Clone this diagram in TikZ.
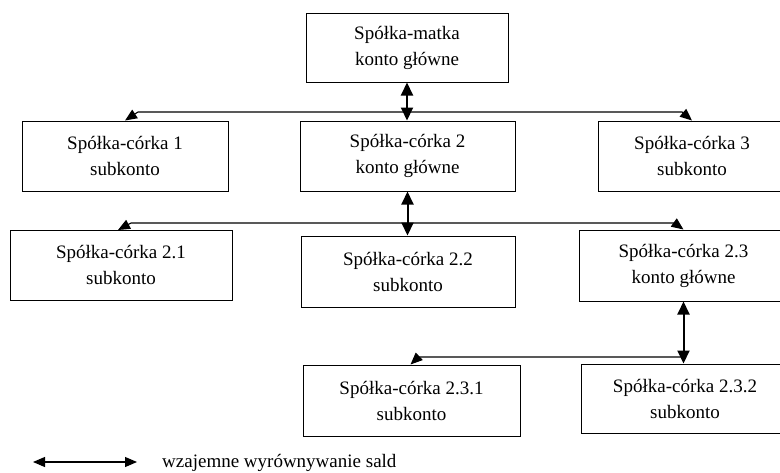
\documentclass[tikz,border=0pt]{standalone}
\usepackage{fontspec}
\setmainfont{Liberation Serif}
\usetikzlibrary{arrows.meta,calc}
\begin{document}
\begin{tikzpicture}[x=1pt,y=-1pt,
  box/.style={draw=black,line width=1pt,rectangle,inner sep=0pt,align=center,
    font=\fontsize{19}{26}\selectfont},
  vlink/.style={line width=2pt,{Triangle[length=13pt,width=12pt]}-{Triangle[length=13pt,width=12pt]}},
  hlink/.style={line width=1.1pt,-{Triangle[length=12pt,width=10pt]}},
  legendlink/.style={line width=1.1pt,{Triangle[length=12pt,width=10pt]}-{Triangle[length=12pt,width=10pt]}}]
\clip (0,0) rectangle (780,472);
\fill[white] (0,0) rectangle (780,472);

\node[box,minimum width=202pt,minimum height=69pt] (m) at (407,47.5) {Spółka-matka\\konto główne};
\node[box,minimum width=206pt,minimum height=70pt] (c1) at (125,156) {Spółka-córka 1\\subkonto};
\node[box,minimum width=215pt,minimum height=70pt] (c2) at (407.5,156) {Spółka-córka 2\\konto główne};
\node[box,minimum width=188pt,minimum height=70pt] (c3) at (692,156) {Spółka-córka 3\\subkonto};
\node[box,minimum width=222pt,minimum height=70pt] (c21) at (121,265) {Spółka-córka 2.1\\subkonto};
\node[box,minimum width=214pt,minimum height=71pt] (c22) at (408,271.5) {Spółka-córka 2.2\\subkonto};
\node[box,minimum width=209pt,minimum height=71pt] (c23) at (683.5,265.5) {Spółka-córka 2.3\\konto główne};
\node[box,minimum width=217pt,minimum height=71pt] (c231) at (411.5,400.5) {Spółka-córka 2.3.1\\subkonto};
\node[box,minimum width=208pt,minimum height=69pt] (c232) at (685,398.5) {Spółka-córka 2.3.2\\subkonto};

% vertical two-way links
\draw[vlink] (m.south) -- (m.south |- c2.north);
\draw[vlink] (c2.south) -- (c2.south |- c22.north);
\draw[vlink] (c23.south) -- (c23.south |- c232.north);

% junctions
\coordinate (j1) at (407,112);
\coordinate (j2) at (407,223);
\coordinate (j3) at (683.5,357);

% branches
\draw[hlink] (j1) -- ($(j1 -| c1.north)+(13,0)$) -- (c1.north);
\draw[hlink] (j1) -- ($(j1 -| c3.north)+(-10,0)$) -- (c3.north);
\draw[hlink] (j2) -- ($(j2 -| 118,0)+(13,0)$) -- (118,230);
\draw[hlink] (j2) -- ($(j2 -| c23.north)+(-9,0)$) -- (c23.north);
\draw[hlink] (j3) -- ($(j3 -| c231.north)+(7,0)$) -- ($(c231.north)+(-1,0)$);

% legend
\coordinate (l1) at (33,462);
\coordinate (l2) at (137,462);
\draw[legendlink] (l1) -- (l2);
\node[anchor=base west,inner sep=0pt,font=\fontsize{19}{26}\selectfont] (lt) at (162,467) {wzajemne wyrównywanie sald};
\end{tikzpicture}
\end{document}
